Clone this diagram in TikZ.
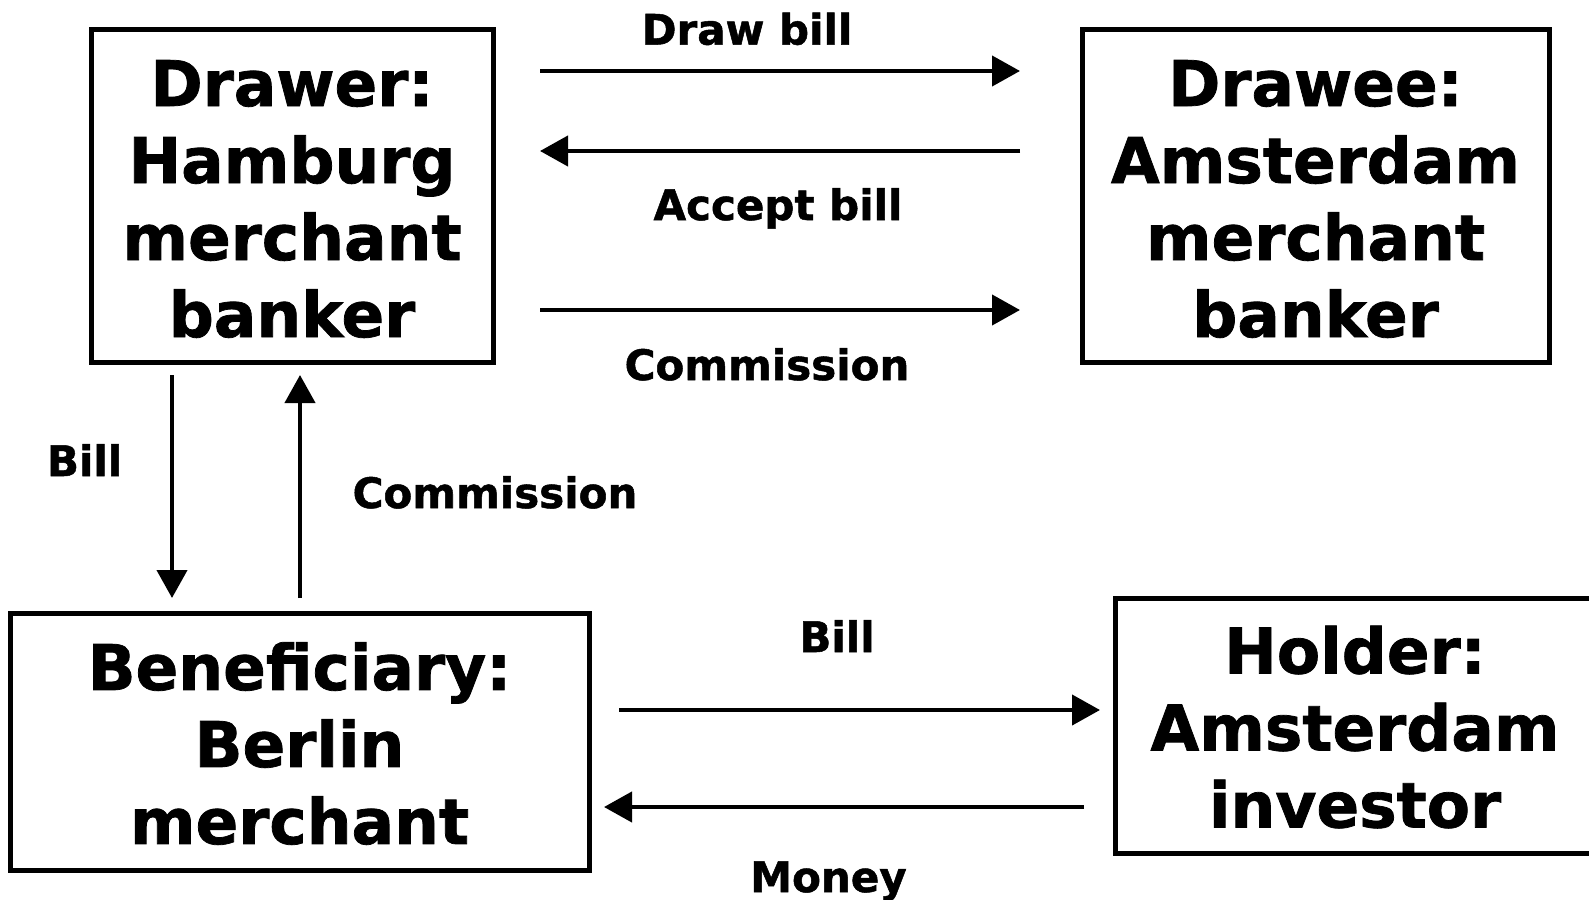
\documentclass[tikz,border=0pt]{standalone}
\usepackage{fontspec}
\setmainfont{DejaVu Sans}[BoldFeatures={FakeBold=1.2}]
\usetikzlibrary{arrows.meta}
\tikzset{
  party/.style={draw=black, line width=5pt, inner sep=0pt, align=center,
    font=\fontsize{63}{77}\selectfont\bfseries},
  ptext/.style={inner sep=0pt, align=center, font=\fontsize{63}{77}\selectfont\bfseries},
  flow/.style={draw=black, line width=4.2pt, -{Triangle[length=28pt,width=30pt]}},
  lbl/.style={anchor=base, inner sep=0pt, font=\fontsize{42}{50}\selectfont\bfseries}
}
\begin{document}
\begin{tikzpicture}[x=1pt,y=-1pt]
\useasboundingbox (0,0) rectangle (1589,899);
% boxes
\node[party, minimum width=402pt, minimum height=332pt] (drawer) at (292,196) {};
\node[ptext] (drawertext) at (292,199) {Drawer:\\Hamburg\\merchant\\banker};
\node[party, minimum width=467pt, minimum height=332pt] (drawee) at (1315.5,196) {};
\node[ptext] (draweetext) at (1315.5,199) {Drawee:\\Amsterdam\\merchant\\banker};
\node[party, minimum width=579pt, minimum height=257pt] (benef) at (299.5,741.5) {};
\node[ptext] (beneftext) at (299.5,743.5) {Beneficiary:\\Berlin\\merchant};
\node[party, minimum width=480pt, minimum height=255pt] (holder) at (1355,725.5) {};
\node[ptext] (holdertext) at (1355,727) {Holder:\\Amsterdam\\investor};
% connector end points
\coordinate (a1s) at (540,71);  \coordinate (a1e) at (1020,71);
\coordinate (a2s) at (1020,151); \coordinate (a2e) at (540,151);
\coordinate (a3s) at (540,310); \coordinate (a3e) at (1020,310);
\coordinate (b1s) at (172,375); \coordinate (b1e) at (172,598);
\coordinate (b2s) at (300,598); \coordinate (b2e) at (300,375);
\coordinate (c1s) at (619,710); \coordinate (c1e) at (1100,710);
\coordinate (c2s) at (1084,807); \coordinate (c2e) at (604,807);
% connectors
\draw[flow] (a1s) -- (a1e);
\draw[flow] (a2s) -- (a2e);
\draw[flow] (a3s) -- (a3e);
\draw[flow] (b1s) -- (b1e);
\draw[flow] (b2s) -- (b2e);
\draw[flow] (c1s) -- (c1e);
\draw[flow] (c2s) -- (c2e);
% labels
\node[lbl] (l1) at (747,44.6) {Draw bill};
\node[lbl] (l2) at (778,220) {Accept bill};
\node[lbl] (l3) at (767,380) {Commission};
\node[lbl] (l4) at (84.6,476) {Bill};
\node[lbl] (l5) at (495,508) {Commission};
\node[lbl] (l6) at (837,652) {Bill};
\node[lbl] (l7) at (828.5,892) {Money};
\end{tikzpicture}
\end{document}
